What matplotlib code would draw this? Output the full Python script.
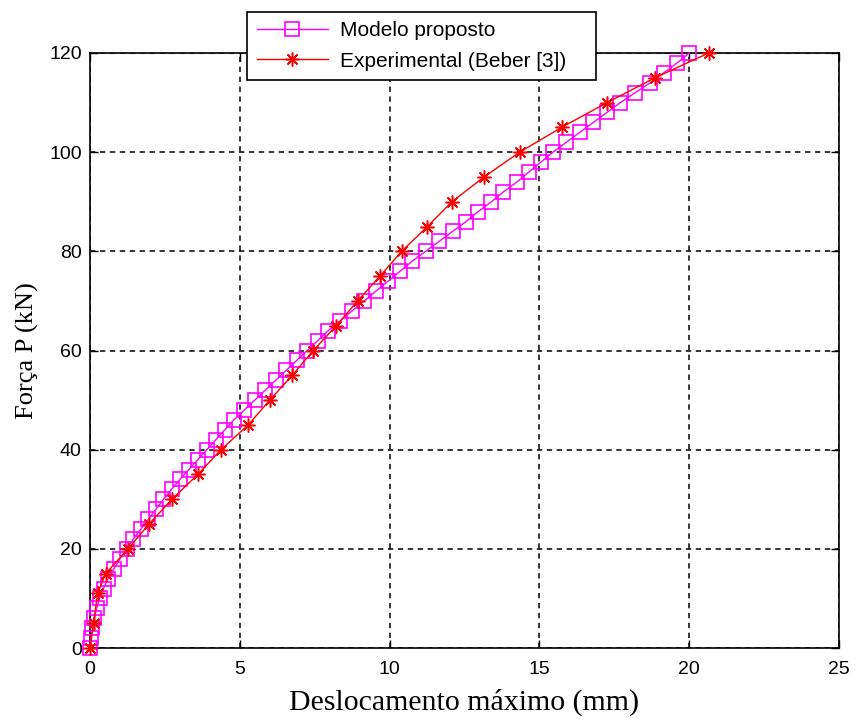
import matplotlib
matplotlib.use("Agg")
import matplotlib.pyplot as plt

# Modelo proposto (pontos a cada 2 kN)
forca_modelo = [0, 2, 4, 6, 8, 10, 12, 14, 16, 18, 20, 22, 24, 26, 28, 30,
                32, 34, 36, 38, 40, 42, 44, 46, 48, 50, 52, 54, 56, 58, 60,
                62, 64, 66, 68, 70, 72, 74, 76, 78, 80, 82, 84, 86, 88, 90,
                92, 94, 96, 98, 100, 102, 104, 106, 108, 110, 112, 114, 116,
                118, 120]
desloc_modelo = [0.0, 0.03, 0.08, 0.14, 0.22, 0.32, 0.45, 0.6, 0.8, 1.0,
                 1.22, 1.45, 1.7, 1.95, 2.2, 2.45, 2.72, 3.0, 3.3, 3.6,
                 3.9, 4.2, 4.5, 4.8, 5.15, 5.5, 5.85, 6.2, 6.55, 6.9,
                 7.25, 7.6, 7.95, 8.35, 8.75, 9.15, 9.55, 9.95, 10.35, 10.75,
                 11.2, 11.65, 12.1, 12.55, 12.95, 13.4, 13.8, 14.25, 14.65, 15.05,
                 15.45, 15.9, 16.35, 16.8, 17.25, 17.7, 18.2, 18.7, 19.15, 19.6,
                 20.0]

# Experimental (Beber [3])
forca_exp = [0, 5, 11, 15, 20, 25, 30, 35, 40, 45, 50, 55, 60, 65, 70, 75,
             80, 85, 90, 95, 100, 105, 110, 115, 120]
desloc_exp = [0.0, 0.12, 0.25, 0.52, 1.27, 1.97, 2.73, 3.6, 4.37, 5.28,
              6.0, 6.75, 7.45, 8.22, 8.93, 9.68, 10.4, 11.26, 12.08, 13.15,
              14.34, 15.74, 17.26, 18.86, 20.65]

xticks = [0, 5, 10, 15, 20, 25]
yticks = [0, 20, 40, 60, 80, 100, 120]

plt.rcParams['font.family'] = ['Liberation Sans', 'DejaVu Sans']

fig = plt.figure(figsize=(8.6, 7.25), dpi=100)
ax = fig.add_axes([0.1047, 0.1062, 0.8709, 0.8207])

ax.plot(desloc_modelo, forca_modelo, color='#ff00ff', lw=1.0, marker='s',
        markersize=10, markerfacecolor='none', markeredgecolor='#ff00ff',
        markeredgewidth=1.2, label='Modelo proposto', clip_on=False, zorder=3)
ax.plot(desloc_exp, forca_exp, color='#ff0000', lw=1.0, marker=(8, 2, 0),
        markersize=10, markeredgewidth=1.1, label='Experimental (Beber [3])',
        clip_on=False, zorder=4)

ax.set_xlim(0, 25)
ax.set_ylim(0, 120)
ax.set_xticks(xticks)
ax.set_yticks(yticks)
ax.tick_params(direction='in', length=6, width=1, top=True, right=True,
               labelsize=14, colors='black')
ax.tick_params(axis='x', pad=9)
ax.tick_params(axis='y', pad=6)
ax.grid(True, color='black', linestyle=(0, (3.5, 3)), linewidth=1.1)
for s in ax.spines.values():
    s.set_linewidth(1.2)

ax.set_xlabel('Deslocamento máximo (mm)', family='Liberation Serif',
              fontsize=21.5, labelpad=8)
ax.set_ylabel('Força P (kN)', family='Liberation Serif', fontsize=19,
              labelpad=7)

leg = ax.legend(loc='lower left', bbox_to_anchor=(0.21, 0.9546, 0.465, 0.121),
                mode='expand', fontsize=15, fancybox=False, framealpha=1,
                edgecolor='black', handlelength=3.4, borderaxespad=0,
                borderpad=0.45, labelspacing=0.55, handletextpad=0.6)
leg.get_frame().set_linewidth(1.2)
leg.set_zorder(10)

fig.savefig('out.png', dpi=100)
